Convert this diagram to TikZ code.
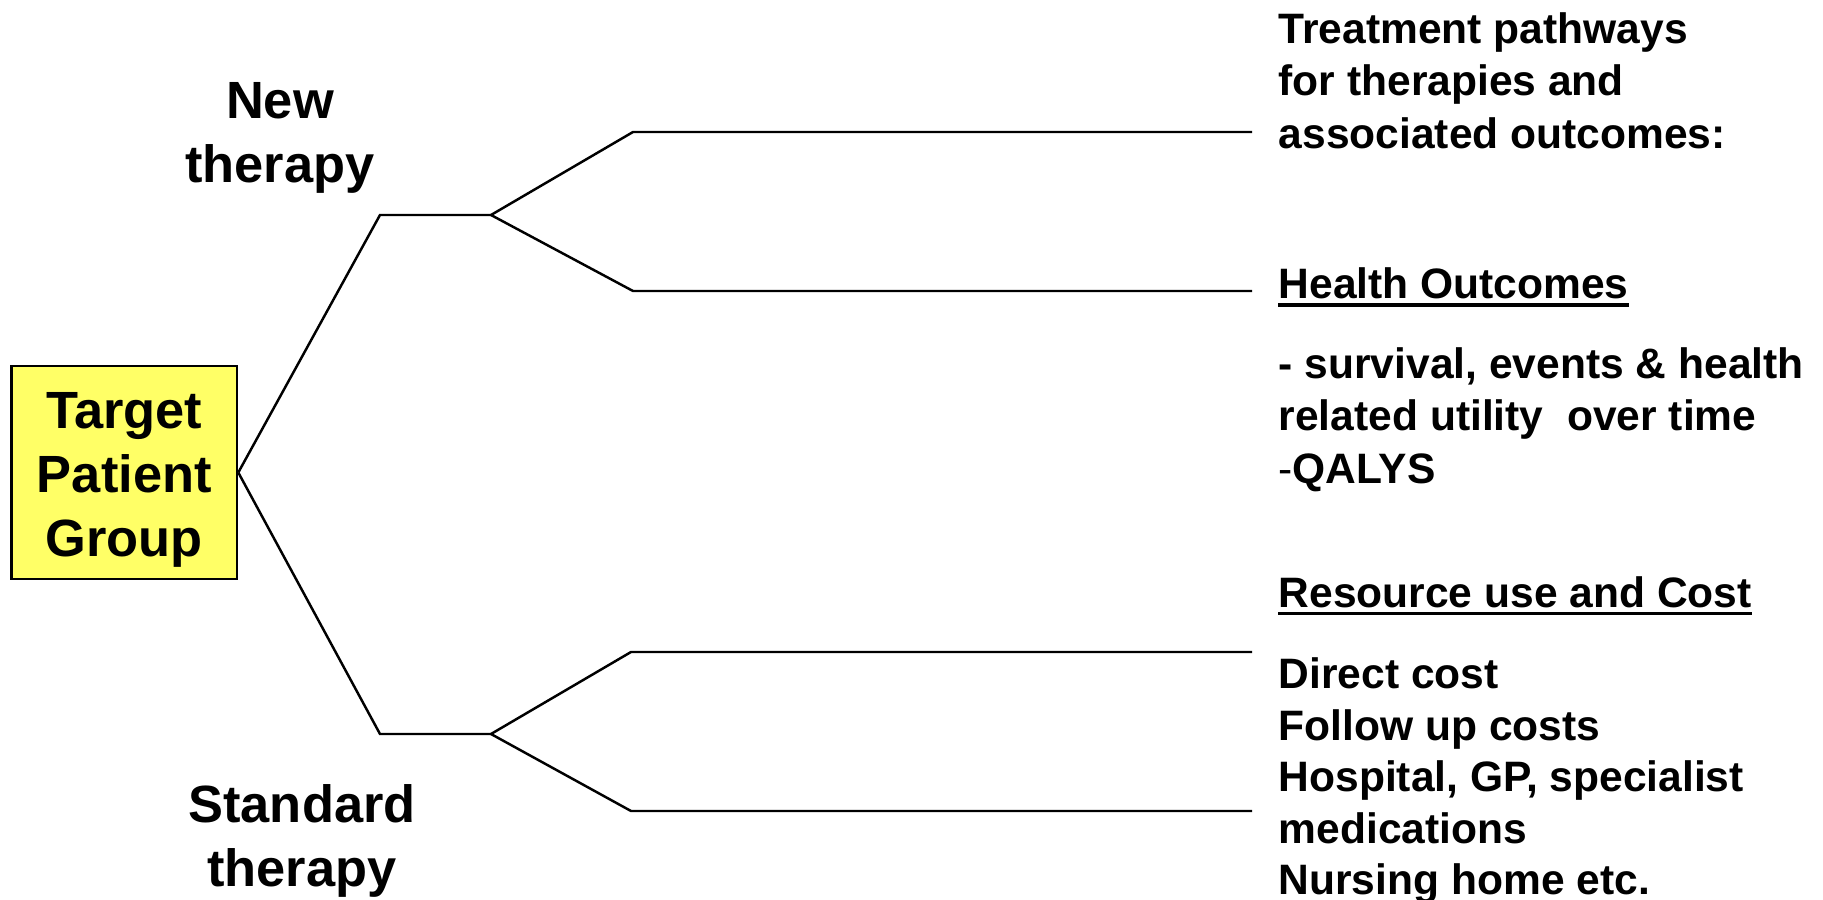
\documentclass[tikz,border=0pt]{standalone}
\usepackage{fontspec}
\setmainfont{Liberation Sans}
\usetikzlibrary{positioning,calc}
\definecolor{boxyellow}{HTML}{FFFF66}

\tikzset{
  branch/.style={line width=0.7pt},
  bigtxt/.style={font=\fontsize{14.9}{18.1}\selectfont\bfseries,align=center,inner sep=0pt},
  sidetxt/.style={font=\fontsize{12.1}{15}\selectfont\bfseries,anchor=base west,inner sep=0pt},
  uline/.style={line width=0.95pt},
}

\begin{document}
\begin{tikzpicture}[x=0.01cm,y=-0.01cm]
  \useasboundingbox (0,0) rectangle (1823,900);
  % root box
  \node[bigtxt,draw,line width=0.7pt,fill=boxyellow,minimum width=2.254cm,minimum height=2.13cm]
    (tpg) at (124.3,472.5) {\rule{0pt}{14.5pt}Target\\Patient\\Group};
  \node[bigtxt] (newth) at (280,138) {New\\therapy};
  \node[bigtxt] (stdth) at (302,841) {Standard\\therapy};
  % branch points
  \coordinate (nc) at (380,215);
  \coordinate (nf) at (491,215);
  \coordinate (sc) at (380,734);
  \coordinate (sf) at (491,734);
  \coordinate (n1) at (633,132);
  \coordinate (n2) at (633,291);
  \coordinate (s1) at (631,652);
  \coordinate (s2) at (631,811);
  \draw[branch] (tpg.east) -- (nc) -- (nf);
  \draw[branch] (tpg.east) -- (sc) -- (sf);
  \foreach \p/\q in {nf/n1,nf/n2,sf/s1,sf/s2}{%
    \draw[branch] (\p) -- (\q) -- (\q -| 1252,0);
  }
  % outcome texts
  \foreach \n/\yy/\txt in {a/43/{Treatment pathways},b/96/{for therapies and},c/148/{associated outcomes:}}{%
    \node[sidetxt] (tp\n) at (1278,\yy) {\txt};
  }
  \node[sidetxt] (ho) at (1278,298) {Health Outcomes};
  \draw[uline] ([yshift=-2pt]ho.base west) -- ([yshift=-2pt]ho.base east);
  \foreach \n/\yy/\txt in {a/378/{- survival, events \& health},b/430/{related utility\ \ over time},c/483/{{\mdseries -}QALYS}}{%
    \node[sidetxt] (hq\n) at (1278,\yy) {\txt};
  }
  \node[sidetxt] (rc) at (1278,607) {Resource use and Cost};
  \draw[uline] ([yshift=-1.8pt]rc.base west) -- ([yshift=-1.8pt]rc.base east);
  \foreach \n/\yy/\txt in {a/688/{Direct cost},b/740/{Follow up costs},c/791/{Hospital, GP, specialist},d/843/{medications},e/894/{Nursing home etc.}}{%
    \node[sidetxt] (cost\n) at (1278,\yy) {\txt};
  }
\end{tikzpicture}
\end{document}
